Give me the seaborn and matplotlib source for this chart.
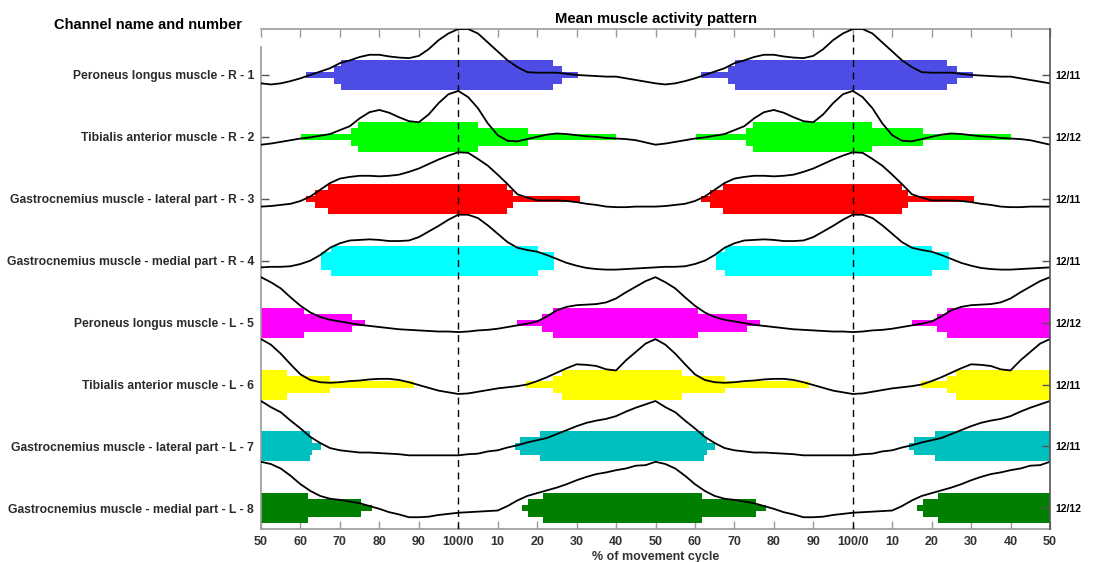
import numpy as np
import pandas as pd
import matplotlib
matplotlib.use("Agg")
import matplotlib.pyplot as plt
import seaborn as sns

# ---------------- data ----------------
muscles = [
    "Peroneus longus muscle - R - 1",
    "Tibialis anterior muscle - R - 2",
    "Gastrocnemius muscle - lateral part - R - 3",
    "Gastrocnemius muscle - medial part - R - 4",
    "Peroneus longus muscle - L - 5",
    "Tibialis anterior muscle - L - 6",
    "Gastrocnemius muscle - lateral part - L - 7",
    "Gastrocnemius muscle - medial part - L - 8",
]
cycle_counts = ["12/11", "12/12", "12/11", "12/11", "12/12", "12/11", "12/11", "12/12"]
bar_colors = ["#4d4de6", "#00ff00", "#ff0000", "#00ffff",
              "#ff00ff", "#ffff00", "#00bfbf", "#007f00"]

# activity intervals (onset, offset) in % of cycle, for three agreement levels
low_on = [61.5, 60.2, 61.5, 65.3, 15.0, 17.3, 14.3, 16.2]
low_off = [30.4, 40.1, 30.8, 24.3, 76.4, 88.9, 65.1, 78.1]
mid_on = [68.5, 72.9, 63.8, 65.3, 21.3, 23.9, 15.6, 17.7]
mid_off = [26.3, 17.7, 13.9, 24.3, 73.1, 67.6, 63.0, 75.4]
high_on = [70.2, 74.6, 67.0, 67.7, 24.0, 26.2, 20.8, 21.5]
high_off = [24.0, 5.0, 12.4, 20.2, 60.8, 56.6, 62.3, 61.9]

# mean normalised envelope, sampled every 2.5 % of the cycle starting at 50 %
env_1 = [0.02, 0.00, 0.02, 0.06, 0.11, 0.17, 0.23, 0.29, 0.38, 0.43, 0.49, 0.53, 0.53, 0.50, 0.48, 0.47, 0.51, 0.63, 0.79, 0.91,
         0.99, 0.99, 0.91, 0.75, 0.59, 0.43, 0.31, 0.22, 0.21, 0.21, 0.21, 0.19, 0.17, 0.16, 0.15, 0.14, 0.14, 0.11, 0.08, 0.05]
env_2 = [0.03, 0.05, 0.08, 0.11, 0.14, 0.16, 0.19, 0.22, 0.29, 0.36, 0.50, 0.61, 0.65, 0.60, 0.52, 0.45, 0.43, 0.57, 0.77, 0.93,
         0.99, 0.88, 0.68, 0.41, 0.20, 0.10, 0.09, 0.13, 0.17, 0.21, 0.23, 0.22, 0.20, 0.18, 0.17, 0.15, 0.14, 0.13, 0.11, 0.07]
env_3 = [0.03, 0.04, 0.06, 0.08, 0.13, 0.21, 0.33, 0.45, 0.53, 0.56, 0.58, 0.58, 0.57, 0.58, 0.60, 0.65, 0.71, 0.79, 0.87, 0.94,
         1.00, 0.99, 0.88, 0.76, 0.60, 0.43, 0.25, 0.19, 0.14, 0.14, 0.14, 0.13, 0.11, 0.08, 0.06, 0.03, 0.02, 0.02, 0.03, 0.03]
env_4 = [0.05, 0.06, 0.06, 0.07, 0.11, 0.17, 0.27, 0.40, 0.48, 0.53, 0.54, 0.55, 0.54, 0.52, 0.52, 0.53, 0.59, 0.69, 0.79, 0.90,
         0.99, 0.99, 0.93, 0.80, 0.65, 0.50, 0.40, 0.36, 0.33, 0.27, 0.20, 0.13, 0.08, 0.04, 0.02, 0.01, 0.01, 0.02, 0.03, 0.04]
env_5 = [0.98, 0.89, 0.78, 0.62, 0.47, 0.35, 0.27, 0.22, 0.19, 0.16, 0.13, 0.11, 0.09, 0.07, 0.05, 0.04, 0.03, 0.02, 0.01, 0.01,
         0.00, 0.01, 0.03, 0.04, 0.06, 0.09, 0.12, 0.15, 0.19, 0.28, 0.39, 0.45, 0.48, 0.49, 0.50, 0.53, 0.60, 0.71, 0.81, 0.91]
env_6 = [0.98, 0.88, 0.72, 0.53, 0.35, 0.25, 0.21, 0.20, 0.21, 0.23, 0.24, 0.26, 0.27, 0.27, 0.25, 0.21, 0.16, 0.11, 0.06, 0.03,
         0.00, 0.01, 0.04, 0.07, 0.10, 0.12, 0.14, 0.17, 0.23, 0.30, 0.38, 0.46, 0.53, 0.52, 0.50, 0.44, 0.42, 0.60, 0.75, 0.90]
env_7 = [0.98, 0.87, 0.78, 0.63, 0.49, 0.34, 0.23, 0.14, 0.10, 0.08, 0.06, 0.06, 0.05, 0.04, 0.03, 0.01, 0.01, 0.01, 0.01, 0.01,
         0.01, 0.03, 0.04, 0.08, 0.10, 0.15, 0.19, 0.24, 0.28, 0.32, 0.39, 0.46, 0.53, 0.59, 0.63, 0.66, 0.71, 0.79, 0.86, 0.92]
env_8 = [1.00, 0.96, 0.88, 0.75, 0.60, 0.48, 0.39, 0.34, 0.32, 0.29, 0.26, 0.21, 0.16, 0.10, 0.06, 0.01, 0.01, 0.02, 0.05, 0.07,
         0.09, 0.10, 0.11, 0.12, 0.13, 0.21, 0.31, 0.39, 0.44, 0.49, 0.54, 0.60, 0.67, 0.73, 0.78, 0.81, 0.85, 0.88, 0.93, 0.94]
envelopes = [env_1, env_2, env_3, env_4, env_5, env_6, env_7, env_8]
sample_step = 2.5  # % of cycle between envelope samples

x_tick_labels = ["50", "60", "70", "80", "90", "100/0", "10", "20", "30", "40", "50",
                 "60", "70", "80", "90", "100/0", "10", "20", "30", "40", "50"]

# ---------------- style ----------------
sns.set_theme(style="white")
plt.rcParams["font.family"] = ["Liberation Sans", "DejaVu Sans"]

W, H = 1112, 562
fig = plt.figure(figsize=(W / 100, H / 100), dpi=100)
ax = fig.add_axes([261 / W, 1 - 529 / H, (1050 - 261) / W, (529 - 29) / H])

rows = np.arange(1, len(muscles) + 1)
y_top, y_bot = 0.257, 8.334
levels = [(low_on, low_off, 0.10), (mid_on, mid_off, 0.29), (high_on, high_off, 0.485)]


def to_axis(p):
    return (p - 50) % 100


for i, row in enumerate(rows):
    for on_list, off_list, h in levels:
        t_on = to_axis(on_list[i])
        t_off = to_axis(off_list[i])
        if t_off <= t_on:
            t_off += 100
        for k in (-1, 0, 1, 2):
            ax.barh(row, t_off - t_on, left=t_on + 100 * k, height=h,
                    color=bar_colors[i], edgecolor="none", zorder=2)

# envelope curves (two cycles shown)
for i, row in enumerate(rows):
    vals = envelopes[i]
    n = len(vals)
    t = [sample_step * j + 100 * k for k in (0, 1) for j in range(n)] + [200]
    v = list(vals) * 2 + [vals[0]]
    df = pd.DataFrame({"t": t, "y": [row + 0.153 - 0.905 * x for x in v]})
    sns.lineplot(data=df, x="t", y="y", ax=ax, color="black", lw=1.3,
                 sort=False, estimator=None, zorder=4)

for xv in (50, 150):
    ax.axvline(xv, color="black", lw=1.0, ls=(0, (5, 4)), zorder=5)

ax.set_xlim(0, 200)
ax.set_ylim(y_bot, y_top)
ax.set_xticks(np.arange(0, 201, 10))
ax.set_xticklabels(x_tick_labels, fontsize=9, fontweight="bold", color="#333333")
ax.set_yticks(rows)
ax.set_yticklabels(muscles, fontsize=8.7, fontweight="bold", color="#2a2a2a")
ax.set_xlabel("")
ax.set_ylabel("")
ax.tick_params(axis="x", direction="in", length=6, width=1, color="#9a9a9a",
               top=True, bottom=True, pad=5)
ax.tick_params(axis="y", direction="in", length=6, width=1, color="#555555",
               left=True, right=False, pad=5)
for s in ("top", "bottom", "left"):
    ax.spines[s].set_color("#9a9a9a")
    ax.spines[s].set_linewidth(1.2)
ax.spines["left"].set_bounds(0.55, y_bot)
ax.spines["right"].set_visible(False)

ax2 = ax.twinx()
ax2.set_ylim(y_bot, y_top)
ax2.set_yticks(rows)
ax2.set_yticklabels(cycle_counts, fontsize=7.5, fontweight="bold", color="black")
ax2.tick_params(axis="y", direction="in", length=6, width=1, color="#555555", pad=4)
for s in ("top", "bottom", "left"):
    ax2.spines[s].set_visible(False)
ax2.spines["right"].set_color("#555555")
ax2.spines["right"].set_linewidth(1.2)
ax2.set_ylabel("")

fig.text(655.5 / W, 1 - 19 / H, "Mean muscle activity pattern", ha="center", va="center",
         fontsize=10.7, fontweight="bold", color="black")
fig.text(148 / W, 1 - 25 / H, "Channel name and number", ha="center", va="center",
         fontsize=10.5, fontweight="bold", color="black")
fig.text(655.5 / W, 1 - 557 / H, "% of movement cycle", ha="center", va="center",
         fontsize=9, fontweight="bold", color="#333333")

fig.savefig("out.png", dpi=100)
